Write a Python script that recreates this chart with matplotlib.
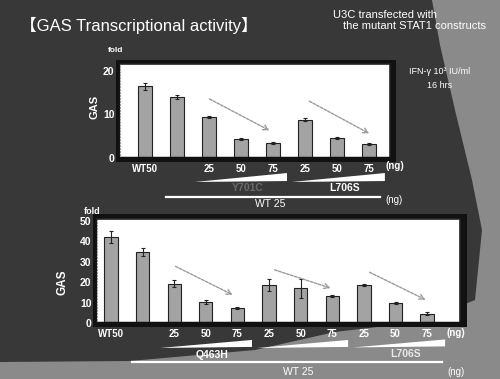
import matplotlib
matplotlib.use("Agg")
import matplotlib.pyplot as plt
from matplotlib.patches import Polygon, Rectangle
import matplotlib.transforms as mtrans

# ---------------- data ----------------
top_labels = ["WT50", "", "25", "50", "75", "25", "50", "75"]
top_vals = [16.4, 14.0, 9.4, 4.3, 3.4, 8.8, 4.5, 3.2]
top_err = [0.8, 0.5, 0.3, 0.2, 0.2, 0.3, 0.2, 0.3]
top_groups = ["Y701C", "L706S"]
top_yticks = [0, 10, 20]

bot_labels = ["WT50", "", "25", "50", "75", "25", "50", "75", "25", "50", "75"]
bot_vals = [42.0, 34.7, 19.3, 10.3, 7.4, 18.6, 17.0, 13.4, 18.6, 9.7, 4.6]
bot_err = [3.0, 2.0, 1.8, 1.0, 0.5, 3.0, 4.5, 0.5, 0.5, 0.5, 0.8]
bot_groups = ["Q463H", "", "L706S"]
bot_yticks = [0, 10, 20, 30, 40, 50]

W, H = 500, 379
DARK = "#383838"
LIGHT = "#8a8a8a"
BAR = "#a3a3a3"
FONT = ["Liberation Sans", "DejaVu Sans", "Noto Sans CJK JP"]

fig = plt.figure(figsize=(W / 100, H / 100), dpi=100)
fig.patch.set_facecolor(DARK)

# background decoration axes in pixel coords
bg = fig.add_axes([0, 0, 1, 1])
bg.set_xlim(0, W)
bg.set_ylim(H, 0)
bg.axis("off")
bg.add_patch(Polygon([(432, 0), (440, 45), (455, 110), (472, 180), (482, 230),
                      (475, 300), (420, 322), (335, 332), (255, 350), (130, 361),
                      (0, 362), (0, H), (W, H), (W, 0)],
                     closed=True, facecolor=LIGHT, edgecolor="none"))
# panel shadows
bg.add_patch(Rectangle((116, 60), 280, 102, facecolor="#111111", edgecolor="none"))
bg.add_patch(Rectangle((93, 214), 374, 113, facecolor="#111111", edgecolor="none"))


def px(x, y):
    return x / W, 1 - y / H


def fig_text(x, y, s, **kw):
    kw.setdefault("color", "white")
    kw.setdefault("family", FONT)
    fig.text(*px(x, y), s, **kw)


def draw_panel(rect, vals, errs, labels, yticks, ylim, xlim, arrows, wedges,
               glabels, gcolors, line, wt_pos, ng1, ng2, tick_fs=7):
    ax = fig.add_axes(rect)
    ax.set_facecolor("white")
    x = list(range(len(vals)))
    ax.bar(x, vals, width=0.42, color=BAR, edgecolor="#222222", linewidth=0.8,
           yerr=errs, error_kw=dict(ecolor="#222222", elinewidth=0.8, capsize=1.5,
                                    capthick=0.8))
    ax.set_xlim(*xlim)
    ax.set_ylim(*ylim)
    ax.set_xticks(x)
    ax.set_xticklabels(labels, color="white", fontsize=tick_fs, family=FONT,
                       fontweight="bold")
    ax.set_yticks(yticks)
    ax.set_yticklabels([str(t) for t in yticks], color="white", fontsize=7.5,
                       family=FONT, fontweight="bold")
    ax.tick_params(length=0, pad=4)
    for s in ["top", "right"]:
        ax.spines[s].set_color("#222222")
        ax.spines[s].set_linewidth(1.2)
    ax.spines["bottom"].set_color("#111111")
    ax.spines["bottom"].set_linewidth(2.5)
    ax.spines["left"].set_color("#999999")
    ax.spines["left"].set_linestyle(":")
    for (x0, y0, x1, y1) in arrows:
        ax.annotate("", xy=(x1, y1), xytext=(x0, y0),
                    arrowprops=dict(arrowstyle="->", color="#9a9a9a", lw=1.0,
                                    linestyle=(0, (2, 1)), mutation_scale=9))
    tr = mtrans.blended_transform_factory(ax.transData, ax.transAxes)
    for (x0, x1, yb, yt), lab, col, in zip(wedges, glabels, gcolors):
        ax.add_patch(Polygon([(x0, yb - 0.01), (x1, yb), (x1, yt)], closed=True,
                             transform=tr, clip_on=False, facecolor="white",
                             edgecolor="none"))
        ax.text((x0 + x1) / 2 + 0.2, yb - 0.075, lab, transform=tr, color=col,
                ha="center", va="center", fontsize=7.5, family=FONT,
                fontweight="bold", clip_on=False)
    lx0, lx1, ly = line
    ax.plot([lx0, lx1], [ly, ly], transform=tr, color="white", lw=1.6,
            clip_on=False)
    ax.text(wt_pos[0], wt_pos[1], "WT 25", transform=tr, color="white",
            ha="center", va="center", fontsize=7.5, family=FONT, clip_on=False)
    ax.text(ng1[0], ng1[1], "(ng)", transform=tr, color="white", ha="center",
            va="center", fontsize=7, family=FONT, fontweight="bold",
            clip_on=False)
    ax.text(ng2[0], ng2[1], "(ng)", transform=tr, color="white", ha="center",
            va="center", fontsize=7, family=FONT, clip_on=False)
    return ax


# top panel: axes px x 120-390, y 64-158
ax1 = draw_panel(
    [120 / W, 1 - 158 / H, 270 / W, 94 / H],
    top_vals, top_err, top_labels, top_yticks, (0, 21.5), (-0.78, 7.66),
    arrows=[(1.94, 13.8, 3.97, 6.0), (5.06, 13.3, 7.09, 5.3)],
    wedges=[(1.56, 4.44, -0.245, -0.16), (4.59, 7.5, -0.245, -0.16)],
    glabels=top_groups, gcolors=["#6a6a6a", "white"],
    line=(0.66, 7.34, -0.415), wt_pos=(3.9, -0.49),
    ng1=(7.8, -0.085), ng2=(7.8, -0.45),
)

# bottom panel: axes px x 97-460, y 219-323
ax2 = draw_panel(
    [97 / W, 1 - 323 / H, 363 / W, 104 / H],
    bot_vals, bot_err, bot_labels, bot_yticks, (0, 51), (-0.443, 11.04),
    arrows=[(1.96, 28.4, 3.93, 13.2), (5.09, 26.5, 7.03, 16.7),
            (8.1, 25.5, 10.03, 10.8)],
    wedges=[(1.55, 4.46, -0.23, -0.163), (4.62, 7.5, -0.23, -0.163),
            (7.66, 10.57, -0.225, -0.158)],
    glabels=bot_groups, gcolors=["white", "white", "#e8e8e8"],
    line=(0.66, 10.47, -0.375), wt_pos=(5.92, -0.47),
    ng1=(10.9, -0.096), ng2=(10.9, -0.47),
)

# axis titles
fig_text(116, 50, "fold", fontsize=6, ha="center", va="center", fontweight="bold")
fig_text(92, 211, "fold", fontsize=6.5, ha="center", va="center", fontweight="bold")
fig_text(95, 107, "GAS", fontsize=8, ha="center", va="center", rotation=90,
         fontweight="bold")
fig_text(62, 282, "GAS", fontsize=8.5, ha="center", va="center", rotation=90,
         fontweight="bold")

# titles
fig_text(20, 25, "【GAS Transcriptional activity】", fontsize=12, ha="left",
         va="center")
fig_text(333, 15, "U3C transfected with", fontsize=8, ha="left", va="center")
fig_text(343, 26, "the mutant STAT1 constructs", fontsize=8, ha="left",
         va="center")
fig_text(440, 72, "IFN-γ 10³ IU/ml", fontsize=6.5, ha="center", va="center")
fig_text(440, 85, "16 hrs", fontsize=6.5, ha="center", va="center")

fig.savefig("out.png", dpi=100, facecolor=fig.get_facecolor())
